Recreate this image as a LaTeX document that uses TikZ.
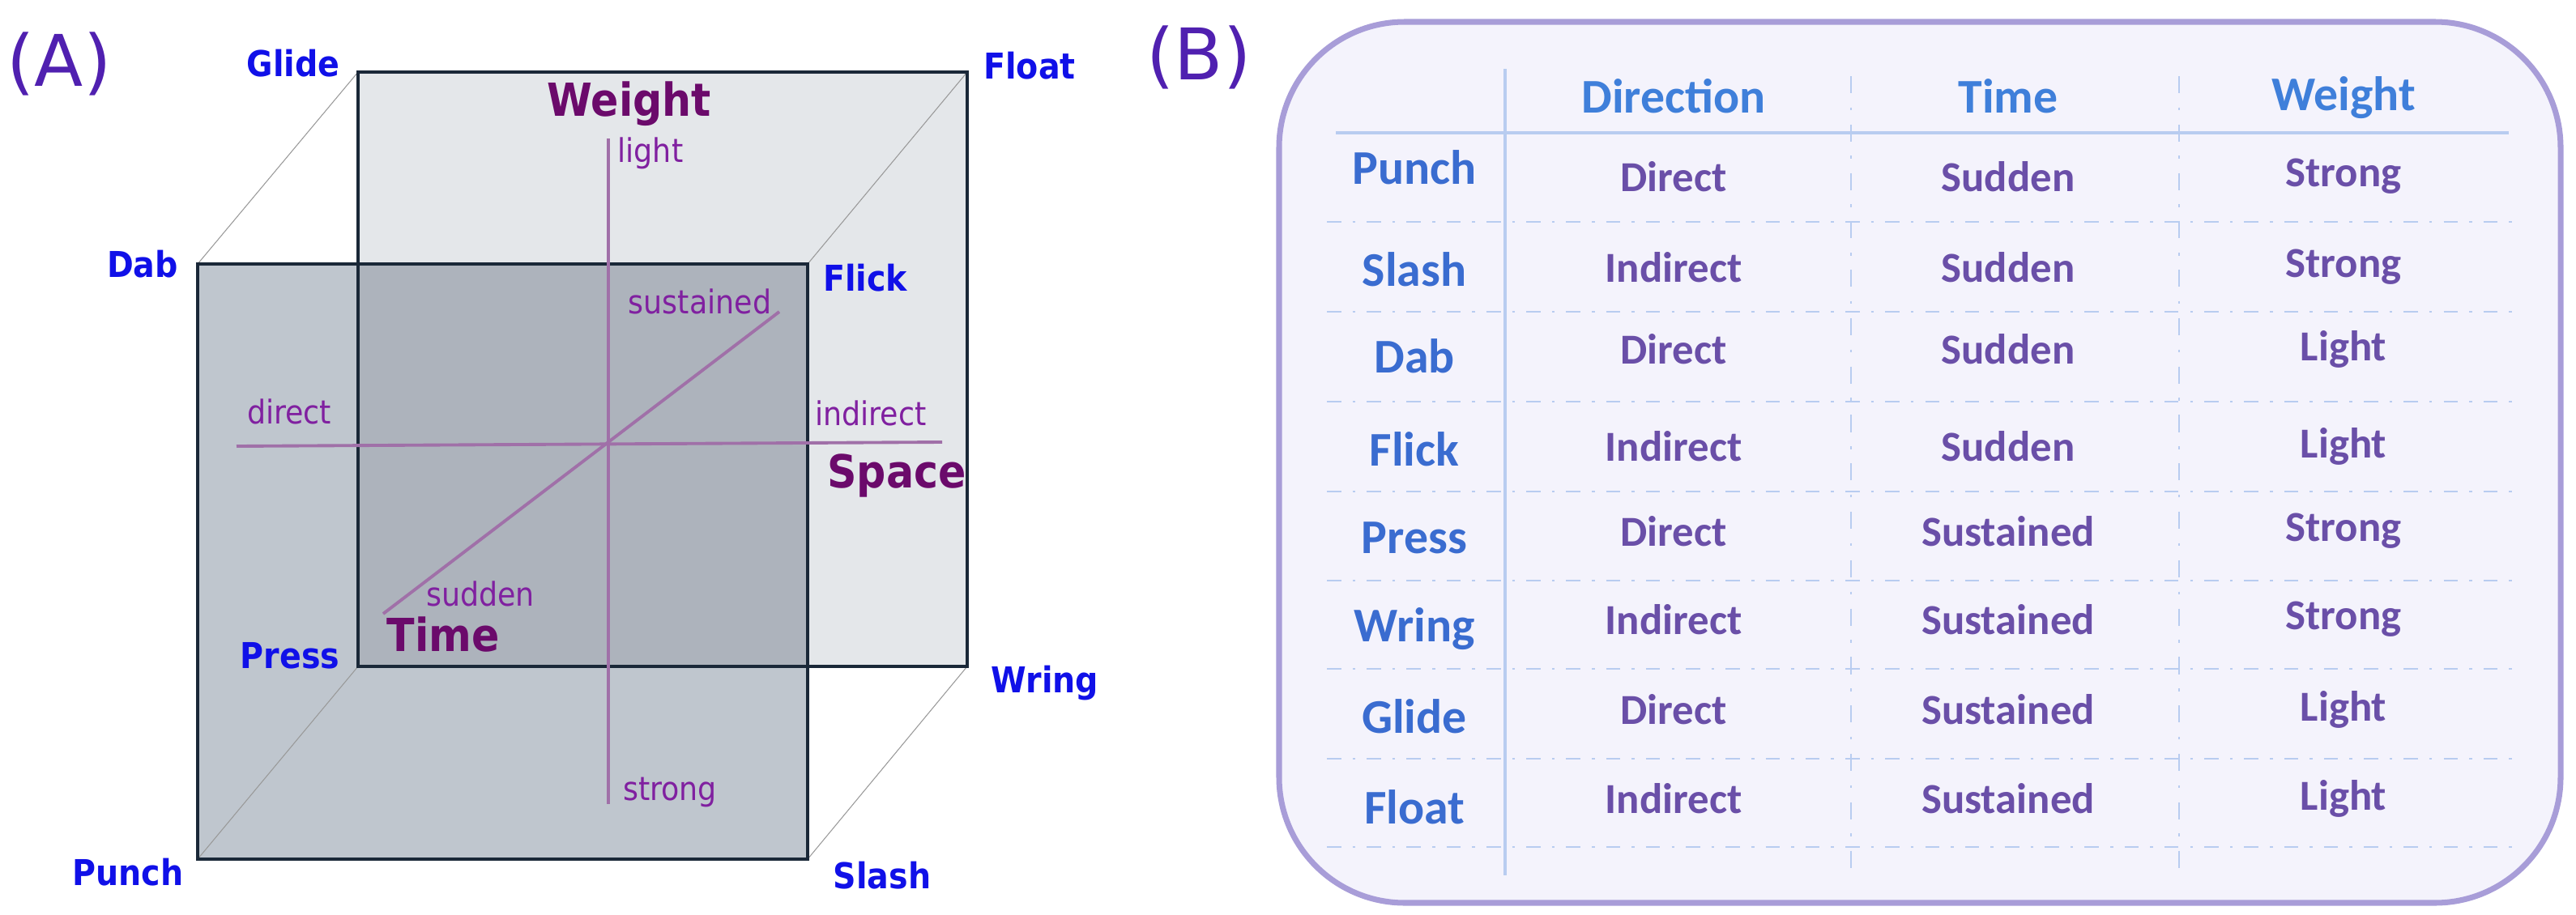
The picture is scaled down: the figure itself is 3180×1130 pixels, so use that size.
\documentclass[tikz,border=0pt]{standalone}
\usepackage{fontspec}
\setmainfont{DejaVu Sans}
\newfontfamily\tbl{Carlito}
\newfontfamily\cond{DejaVu Sans Condensed}
\definecolor{lblue}{HTML}{1010E8}
\definecolor{axc}{HTML}{A070A8}
\definecolor{axt}{HTML}{8020A0}
\definecolor{axb}{HTML}{6B0A6B}
\definecolor{edge}{HTML}{1A2838}
\definecolor{thdr}{HTML}{3F7FDA}
\definecolor{trow}{HTML}{3A6CD0}
\definecolor{tval}{HTML}{6A4FA8}
\definecolor{tline}{HTML}{B8CCF0}
\definecolor{panel}{HTML}{F4F3FC}
\definecolor{panelb}{HTML}{A89DD8}
\definecolor{lett}{HTML}{5020B0}
\definecolor{backf}{HTML}{E4E7EA}
\definecolor{frontf}{HTML}{BFC6CE}
\definecolor{overf}{HTML}{ADB3BC}
\begin{document}
\begin{tikzpicture}[x=0.01cm,y=-0.01cm,
 lab/.style={font=\cond\fontsize{12.5}{14}\selectfont\bfseries,text=lblue},
 big/.style={font=\cond\fontsize{16}{18}\selectfont\bfseries,text=axb},
 sm/.style={font=\cond\fontsize{11.5}{13}\selectfont,text=axt},
 ax/.style={draw=axc,line width=1.1pt},
 face/.style={draw=edge,line width=1.2pt},
 thin/.style={draw=gray!80,line width=0.3pt},
 hd/.style={font=\tbl\bfseries\fontsize{17}{19}\selectfont,text=thdr},
 rw/.style={font=\tbl\bfseries\fontsize{17}{19}\selectfont,text=trow},
 vl/.style={font=\tbl\bfseries\fontsize{15}{17}\selectfont,text=tval},
 dd/.style={draw=tline,line width=0.8pt,dash pattern=on 5pt off 4pt on 1pt off 4pt}]
\useasboundingbox (0,0) rectangle (3180,1130);
% cube corners
\coordinate (bGl) at (442,89); \coordinate (bFl) at (1194,89);
\coordinate (bWr) at (1194,823); \coordinate (bPr) at (442,823);
\coordinate (fDa) at (244,326); \coordinate (fFk) at (997,326);
\coordinate (fSl) at (997,1061); \coordinate (fPu) at (244,1061);
\fill[backf] (bGl) rectangle (bWr);
\fill[frontf] (fDa) rectangle (fSl);
\fill[overf] (442,326) rectangle (997,823);
\draw[thin] (fDa) -- (bGl); \draw[thin] (fFk) -- (bFl);
\draw[thin] (fPu) -- (bPr); \draw[thin] (fSl) -- (bWr);
\draw[face] (bGl) rectangle (bWr);
\draw[face] (fDa) rectangle (fSl);
% axes
\coordinate (vt) at (751,171); \coordinate (vb) at (751,993);
\coordinate (hl) at (292,551); \coordinate (hr) at (1163,546);
\coordinate (ds) at (473,758); \coordinate (de) at (962,385);
\draw[ax] (vt) -- (vb); \draw[ax] (hl) -- (hr); \draw[ax] (ds) -- (de);
\node[sm] (light) at (803,189) {light};
\node[sm] (strong) at (827,978) {strong};
\node[sm] (sust) at (864,372) {sustained};
\node[sm] (sudd) at (593,733) {sudden};
\node[sm] (dir) at (357,508) {direct};
\node[sm] (ind) at (1075,510) {indirect};
\node[big] (weight) at (777,128) {Weight};
\node[big] (space) at (1107,587) {Space};
\node[big] (time) at (547,784) {Time};
\node[lab] (Glide) at (362,78) {Glide};
\node[lab] (Float) at (1271,81) {Float};
\node[lab] (Dab) at (176,326) {Dab};
\node[lab] (Flick) at (1068,343) {Flick};
\node[lab] (Press) at (358,810) {Press};
\node[lab] (Wring) at (1290,844) {Wring};
\node[lab] (Punch) at (158,1077) {Punch};
\node[lab] (Slash) at (1089,1081) {Slash};
\node[font=\fontsize{25}{28}\selectfont,text=lett] (A) at (73,79) {(A)};
\node[font=\fontsize{25}{28}\selectfont,text=lett] (B) at (1480,71) {(B)};
% table panel
\draw[draw=panelb,fill=panel,line width=2pt,rounded corners=1.55cm] (1579,27) rectangle (3161,1115);
\draw[tline,line width=1pt] (1858,85) -- (1858,1081);
\draw[tline,line width=0.8pt,dash pattern=on 6pt off 5pt on 1pt off 5pt] (2285,94) -- (2285,1073);
\draw[tline,line width=0.8pt,dash pattern=on 6pt off 5pt on 1pt off 5pt] (2690,94) -- (2690,1073);
\draw[tline,line width=1.3pt] (1649,164) -- (3097,164);
\foreach \y in {274,385,496,607,717,826,937,1046} \draw[dd] (1638,\y) -- (3103,\y);
\node[hd] (hD) at (2066,119) {Direction};
\node[hd] (hT) at (2479,119) {Time};
\node[hd] (hW) at (2893,121) {Weight};
\foreach \n/\y/\v/\d/\t/\w [count=\i] in {Punch/207/218/Direct/Sudden/Strong,Slash/333/330/Indirect/Sudden/Strong,Dab/440/431/Direct/Sudden/Light,Flick/555/551/Indirect/Sudden/Light,Press/664/656/Direct/Sustained/Strong,Wring/777/765/Indirect/Sustained/Strong,Glide/885/876/Direct/Sustained/Light,Float/997/986/Indirect/Sustained/Light}{
 \node[rw] (r\i) at (1746,\y) {\n};
 \node[vl] (d\i) at (2066,\v) {\d};
 \node[vl] (t\i) at (2479,\v) {\t};
 \node[vl] (w\i) at (2893,\v) {\w};
}
\end{tikzpicture}
\end{document}
